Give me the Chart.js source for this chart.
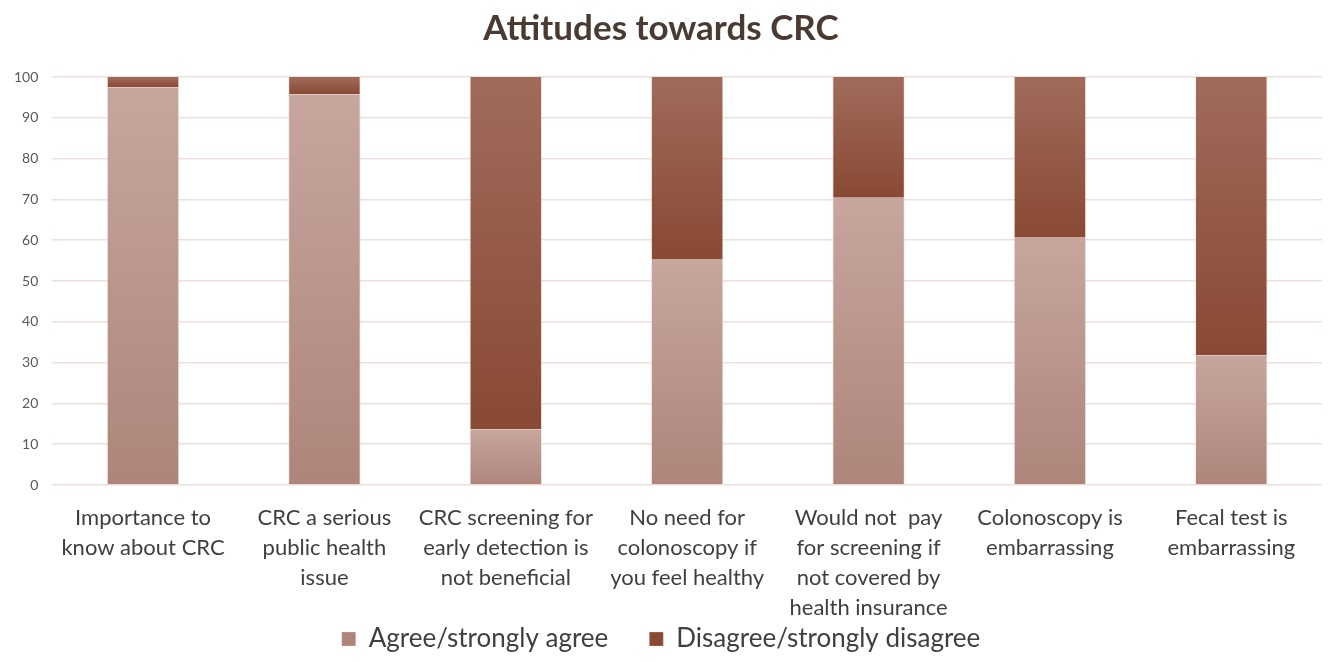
<!DOCTYPE html>
<html>
<head>
<meta charset="utf-8">
<script src="https://cdn.jsdelivr.net/npm/chart.js@4/dist/chart.umd.min.js"></script>
<style>
  html, body { margin: 0; padding: 0; background: #fff; }
  #wrap { width: 1330px; height: 662px; }
</style>
</head>
<body>
<div id="wrap"><canvas id="crcChart"></canvas></div>
<script>
const categories = [
  ["Importance to", "know about CRC"],
  ["CRC a serious", "public health", "issue"],
  ["CRC screening for", "early detection is", "not beneficial"],
  ["No need for", "colonoscopy if", "you feel healthy"],
  ["Would not  pay", "for screening if", "not covered by", "health insurance"],
  ["Colonoscopy is", "embarrassing"],
  ["Fecal test is", "embarrassing"],
];
const agree = [97.4, 95.8, 13.6, 55.4, 70.4, 60.8, 31.8];
const disagree = [2.6, 4.2, 86.4, 44.6, 29.6, 39.2, 68.2];
const yTicks = [0, 10, 20, 30, 40, 50, 60, 70, 80, 90, 100];

const FONT = "Lato, 'Open Sans', sans-serif";

// each segment gets its own top-to-bottom gradient, like the Excel fill
function segGradient(top, bottom, solid) {
  return (c) => {
    const chart = c.chart;
    if (c.dataIndex === undefined || !chart.chartArea || !chart.scales.y) return solid;
    const y = chart.scales.y;
    const isAgree = c.datasetIndex === 0;
    const lo = isAgree ? 0 : agree[c.dataIndex];
    const hi = isAgree ? agree[c.dataIndex] : agree[c.dataIndex] + disagree[c.dataIndex];
    const y0 = y.getPixelForValue(hi);
    const y1 = y.getPixelForValue(lo);
    if (!isFinite(y0) || !isFinite(y1) || y0 === y1) return solid;
    const g = chart.ctx.createLinearGradient(0, y0, 0, y1);
    g.addColorStop(0, top);
    g.addColorStop(1, bottom);
    return g;
  };
}

const edge = { left: 1, right: 1, top: 0, bottom: 0 };

new Chart(document.getElementById("crcChart"), {
  type: "bar",
  data: {
    labels: categories,
    datasets: [
      {
        label: "Agree/strongly agree",
        data: agree,
        backgroundColor: segGradient("#c7a69e", "#ad857b", "#bf9b92"),
        borderColor: "rgba(236,222,218,0.6)",
        borderWidth: edge,
        borderSkipped: false,
      },
      {
        label: "Disagree/strongly disagree",
        data: disagree,
        backgroundColor: segGradient("#a06b5b", "#894934", "#934f3b"),
        borderColor: "rgba(236,222,218,0.6)",
        borderWidth: edge,
        borderSkipped: false,
      },
    ],
  },
  options: {
    responsive: true,
    maintainAspectRatio: false,
    animation: false,
    layout: { padding: { left: 0, right: 8, top: 0, bottom: 0 } },
    datasets: { bar: { categoryPercentage: 1, barPercentage: 0.4 } },
    scales: {
      x: {
        stacked: true,
        grid: { display: false, drawTicks: false },
        border: { display: false },
        ticks: {
          color: "#404040",
          font: { family: FONT, size: 22, lineHeight: 1.36 },
          maxRotation: 0,
          autoSkip: false,
          padding: 18,
        },
        afterFit: (axis) => { axis.height = 139; },
      },
      y: {
        stacked: true,
        min: 0,
        max: 100,
        afterBuildTicks: (axis) => { axis.ticks = yTicks.map((v) => ({ value: v })); },
        grid: { color: "#eddfdb", lineWidth: 1.5, drawTicks: false },
        border: { display: false },
        ticks: { color: "#595959", font: { family: FONT, size: 14 }, padding: 14 },
      },
    },
    plugins: {
      title: {
        display: true,
        text: "Attitudes towards CRC",
        color: "#4a3b32",
        font: { family: FONT, size: 35, weight: "bold" },
        padding: { top: 8, bottom: 27 },
      },
      legend: {
        position: "bottom",
        labels: {
          color: "#404040",
          font: { family: FONT, size: 26 },
          boxWidth: 14,
          boxHeight: 14,
          padding: 2,
          // wider gap between the two items than labels.padding gives
          generateLabels: (chart) => {
            const items = Chart.defaults.plugins.legend.labels.generateLabels(chart);
            items.forEach((it, i) => { if (i < items.length - 1) it.text += "\u2003\u2002\u2009\u2009"; });
            return items;
          },
        },
      },
      tooltip: { enabled: false },
    },
  },
});
</script>
</body>
</html>
